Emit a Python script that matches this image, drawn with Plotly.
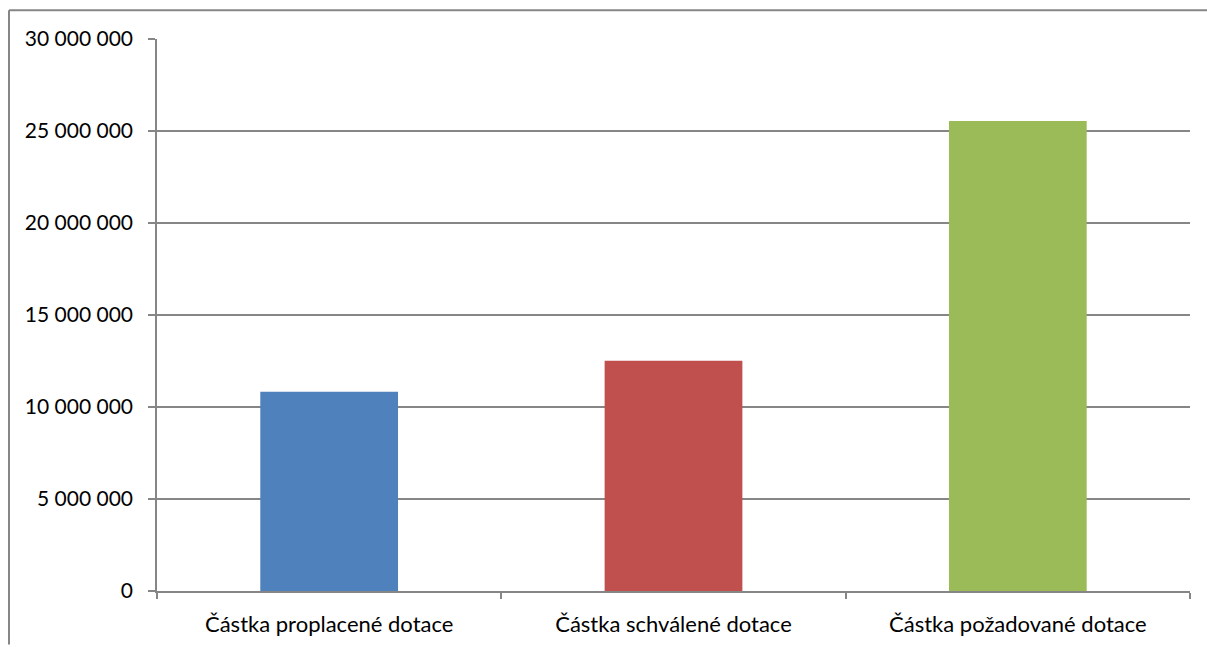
import plotly.graph_objects as go

categories = ["Částka proplacené dotace", "Částka schválené dotace", "Částka požadované dotace"]
values = [10835000, 12510000, 25550000]
colors = ["#4F81BD", "#C0504D", "#9BBB59"]
tick_vals = [0, 5000000, 10000000, 15000000, 20000000, 25000000, 30000000]

W, H = 1207, 649
L, R, T, B = 157, 17, 38.5, 54
pw, ph = W - L - R, H - T - B

fig = go.Figure(go.Bar(x=categories, y=values, marker=dict(color=colors, line=dict(width=0)), width=0.4))

axis_col = "#868686"
fig.update_layout(
    width=W, height=H,
    margin=dict(l=L, r=R, t=T, b=B, pad=0),
    paper_bgcolor="white", plot_bgcolor="white",
    separators=", ",
    showlegend=False,
    font=dict(family="Lato, Carlito, Calibri, sans-serif", size=21, color="#000000"),
    xaxis=dict(
        showline=True, linecolor=axis_col, linewidth=1.5,
        ticks="outside", tickson="boundaries", ticklen=6, tickcolor=axis_col, tickwidth=1.5,
        showgrid=False, ticklabelstandoff=13, tickfont=dict(size=22),
    ),
    yaxis=dict(
        range=[0, 30000000], tickvals=tick_vals, tickformat=",d",
        showline=True, linecolor=axis_col, linewidth=1.5,
        ticks="outside", ticklen=7, tickcolor=axis_col, tickwidth=1.5,
        showgrid=True, gridcolor=axis_col, gridwidth=1.5,
        zeroline=False, ticklabelstandoff=11, tickfont=dict(size=21),
    ),
)

# outer chart-area border (left and top edges visible)
x0 = (9 - L) / pw
x1 = 1 + R / pw
y0 = 1 + (T - 9.5) / ph
fig.add_shape(type="line", xref="paper", yref="paper", x0=x0, x1=x0, y0=y0, y1=-B / ph,
              line=dict(color=axis_col, width=2))
fig.add_shape(type="line", xref="paper", yref="paper", x0=x0, x1=x1, y0=y0, y1=y0,
              line=dict(color=axis_col, width=2))

fig.write_html("out.html", config={"displayModeBar": False},
               post_script="document.body.style.margin='0';document.body.style.overflow='hidden';")
